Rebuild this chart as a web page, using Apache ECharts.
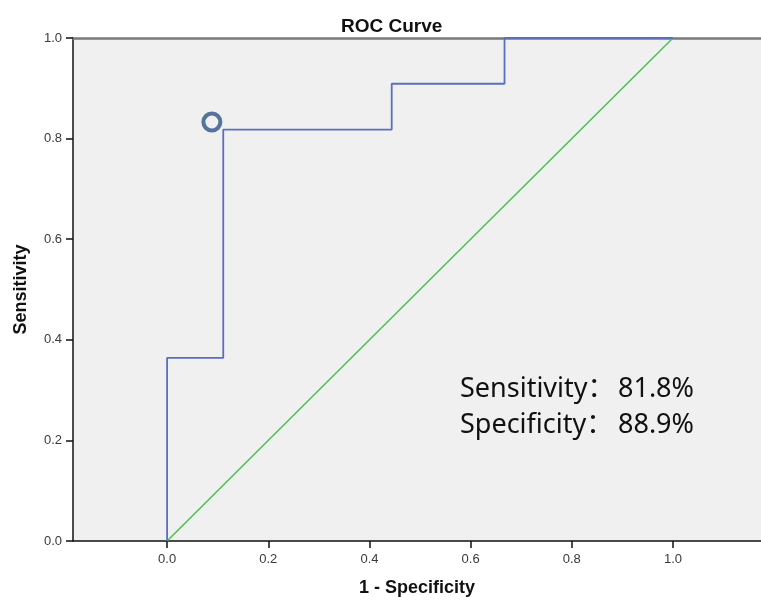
<!DOCTYPE html>
<html>
<head>
<meta charset="utf-8">
<script src="https://cdn.jsdelivr.net/npm/echarts@6/dist/echarts.min.js"></script>
<style>html,body{margin:0;padding:0;background:#fff;}#c{width:761px;height:602px;}</style>
</head>
<body>
<div id="c"></div>
<script>
// ROC curve step points (1 - specificity, sensitivity)
const rocX = [0, 0, 0.111, 0.111, 0.444, 0.444, 0.667, 0.667, 1.0];
const rocY = [0, 0.364, 0.364, 0.818, 0.818, 0.909, 0.909, 1.0, 1.0];
// reference diagonal
const diagX = [0, 1];
const diagY = [0, 1];
// cut-off marker
const cutX = [0.0885];
const cutY = [0.833];
const tickValues = [0, 0.2, 0.4, 0.6, 0.8, 1.0];
const annoLabels = ['Sensitivity：', 'Specificity：'];
const annoValues = ['81.8%', '88.9%'];

const chart = echarts.init(document.getElementById('c'));
const lab = {color: '#3a3a3a', fontFamily: 'Liberation Sans, Arial', fontSize: 13};
const nameStyle = {color: '#111', fontFamily: 'Liberation Sans, Arial', fontSize: 18, fontWeight: 'bold'};
const annoFont = '27px "Noto Sans", "Noto Sans CJK SC"';
chart.setOption({
  backgroundColor: '#ffffff',
  animation: false,
  title: {
    text: 'ROC Curve', left: 336, top: 12,
    textStyle: {color: '#111', fontFamily: 'Liberation Sans, Arial', fontSize: 19, fontWeight: 'bold'}
  },
  grid: {left: 73, right: 0, top: 38, bottom: 58, show: true, backgroundColor: '#f0f0f0', borderWidth: 0},
  xAxis: [{
    type: 'value', min: -0.186, max: 1.174,
    name: '1 - Specificity', nameLocation: 'middle', nameGap: 38, nameTextStyle: nameStyle,
    axisLine: {show: true, onZero: false, lineStyle: {color: '#111', width: 1.5}},
    axisTick: {show: true, length: 7, customValues: tickValues, lineStyle: {color: '#111', width: 1.5}},
    axisLabel: Object.assign({customValues: tickValues, margin: 12, formatter: v => v.toFixed(1)}, lab),
    splitLine: {show: false}
  }, {
    type: 'value', position: 'top', min: -0.186, max: 1.174,
    axisLine: {show: true, onZero: false, lineStyle: {color: '#7a7a7a', width: 2.5}},
    axisTick: {show: false}, axisLabel: {show: false}, splitLine: {show: false}
  }],
  yAxis: {
    type: 'value', min: 0, max: 1, interval: 0.2,
    name: 'Sensitivity', nameLocation: 'middle', nameGap: 43, nameTextStyle: nameStyle,
    axisLine: {show: true, onZero: false, lineStyle: {color: '#111', width: 1.5}},
    axisTick: {show: true, length: 7, lineStyle: {color: '#111', width: 1.5}},
    axisLabel: Object.assign({margin: 11, formatter: v => v.toFixed(1)}, lab),
    splitLine: {show: false}
  },
  series: [{
    type: 'line', data: diagX.map((x, i) => [x, diagY[i]]),
    symbol: 'none', lineStyle: {color: '#4cbf50', width: 1.5}, z: 2
  }, {
    type: 'line', data: rocX.map((x, i) => [x, rocY[i]]),
    symbol: 'none', lineStyle: {color: '#5a6fc0', width: 1.8}, z: 3
  }, {
    type: 'scatter', data: cutX.map((x, i) => [x, cutY[i]]),
    symbol: 'circle', symbolSize: 17,
    itemStyle: {color: '#f0f0f0', borderColor: '#2d5488', borderWidth: 4}, z: 4
  }],
  graphic: [
    {type: 'text', left: 460, top: 376, style: {text: annoLabels[0], font: annoFont, fill: '#111'}},
    {type: 'text', left: 618, top: 376, style: {text: annoValues[0], font: annoFont, fill: '#111'}},
    {type: 'text', left: 460, top: 412, style: {text: annoLabels[1], font: annoFont, fill: '#111'}},
    {type: 'text', left: 618, top: 412, style: {text: annoValues[1], font: annoFont, fill: '#111'}}
  ]
});
</script>
</body>
</html>
